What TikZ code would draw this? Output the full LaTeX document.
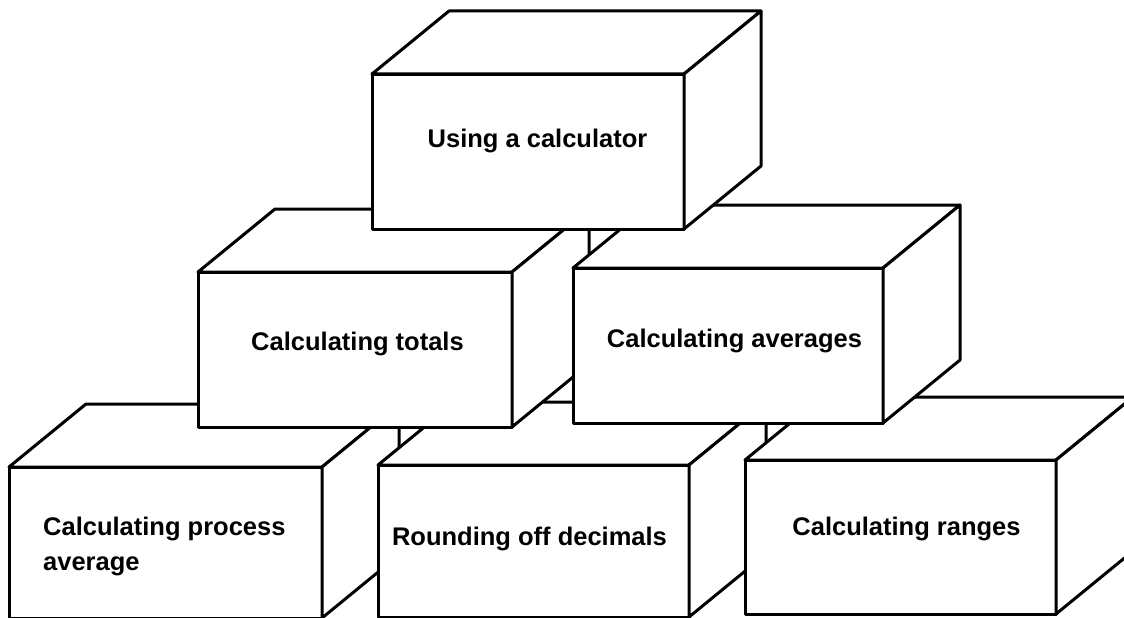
\documentclass[tikz,border=0pt]{standalone}
\usepackage{fontspec}
\setmainfont{Liberation Sans}
\tikzset{
  boxline/.style={draw=black, fill=white, line width=3pt, line join=round},
  boxlabel/.style={font=\fontsize{25.5}{35}\selectfont\bfseries, inner sep=0pt, text=black}
}
% #1 x, #2 y of front top-left corner, #3 width, #4 height (image pixels, y downwards)
\newcommand\blockbox[4]{%
  \path[boxline] (#1,#2) -- ({#1+#3},#2) -- ({#1+#3},{#2+#4}) -- (#1,{#2+#4}) -- cycle;
  \path[boxline] (#1,#2) -- ({#1+77},{#2-63}) -- ({#1+#3+77},{#2-63}) -- ({#1+#3},#2) -- cycle;
  \path[boxline] ({#1+#3},#2) -- ({#1+#3+77},{#2-63}) -- ({#1+#3+77},{#2+#4-63}) -- ({#1+#3},{#2+#4}) -- cycle;
}
\begin{document}
\begin{tikzpicture}[x=1pt, y=-1pt]
\useasboundingbox (0,0) rectangle (1124,618);
\fill[white] (0,0) rectangle (1124,618);
\clip (0,0) rectangle (1124,618);
% bottom row
\blockbox{9}{467}{313}{151}
\blockbox{378}{465}{311}{152}
\blockbox{745}{460}{311}{154}
% middle row
\blockbox{198}{272}{314}{155}
\blockbox{573}{268}{310}{155}
% top
\blockbox{372}{74}{312}{155}
% labels
\node[boxlabel, anchor=base] (calc) at (537.5,147) {Using a calculator};
\node[boxlabel, anchor=base] (totals) at (357.5,350) {Calculating totals};
\node[boxlabel, anchor=base] (averages) at (734.5,347) {Calculating averages};
\node[boxlabel, anchor=base west, align=left] (process) at (43,570) {Calculating process\\average};
\node[boxlabel, anchor=base] (rounding) at (529.5,545) {Rounding off decimals};
\node[boxlabel, anchor=base] (ranges) at (906.5,535) {Calculating ranges};
\end{tikzpicture}
\end{document}
